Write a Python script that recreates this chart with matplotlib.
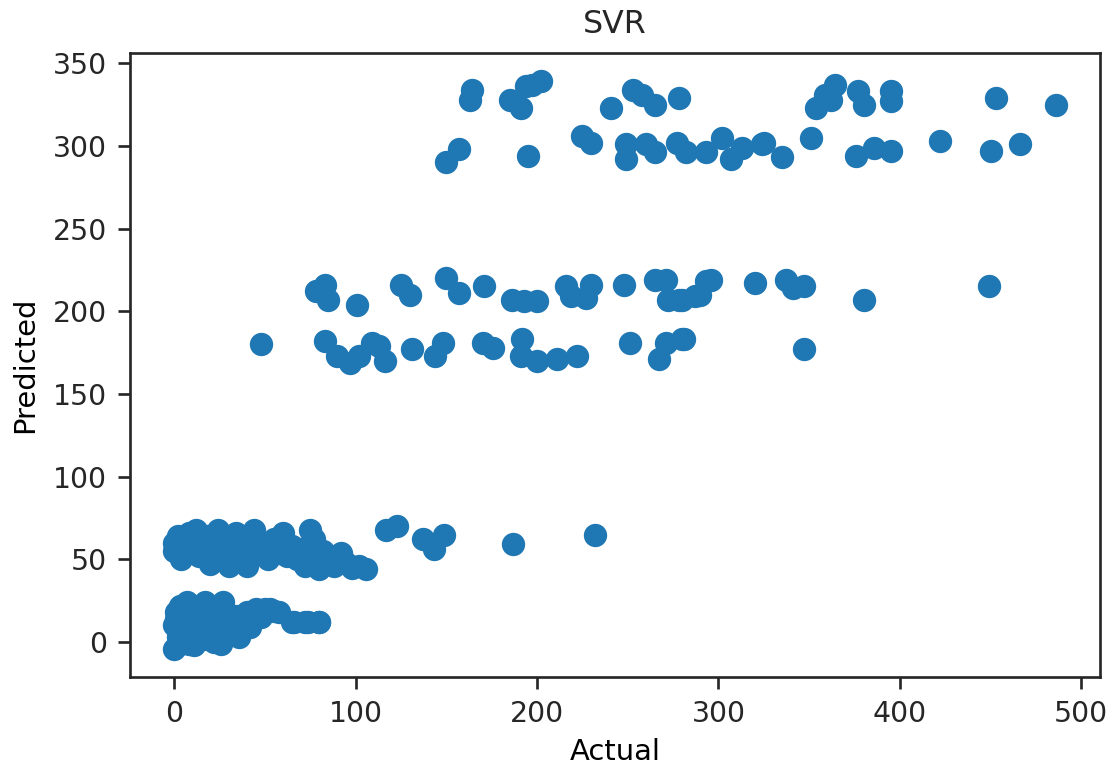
import matplotlib
matplotlib.use("Agg")
import matplotlib.pyplot as plt

# actual vs predicted values
low_actual = [0, 2, 0, 1, 3, 5, 6, 8, 10, 12, 14, 15, 17, 18, 20, 22, 24, 25, 27, 28,
              30, 32, 34, 36, 38, 40, 42, 45, 48, 50, 55, 58, 65, 72, 80, 4, 9, 16, 21, 26,
              11, 7, 53, 66, 74, 80, 2, 5, 12, 18, 24, 10, 28, 1, 14]
low_pred = [-4, 3, 10, 18, 22, 15, 5, -1, 8, 20, 12, 2, 24, 16, 6, 0, 10, 18, 24, 4,
            12, 7, 16, 3, 12, 18, 9, 20, 15, 20, 19, 18, 12, 12, 12, 0, 13, 9, 21, -1,
            -2, 24, 20, 12, 12, 12, -2, 8, 6, 2, 4, 16, 18, 14, 19]

mid_actual = [0, 0, 2, 4, 6, 8, 10, 12, 14, 16, 18, 20, 22, 24, 26, 28, 30, 32, 34, 36,
              38, 40, 42, 44, 46, 48, 50, 52, 55, 58, 60, 62, 65, 68, 70, 72, 75, 77, 78, 80,
              82, 84, 86, 88, 90, 92, 95, 98, 102, 106,
              117, 123, 137, 149, 143, 187, 232]
mid_pred = [60, 55, 64, 50, 58, 66, 62, 68, 52, 58, 64, 47, 56, 68, 62, 52, 46, 58, 66, 55,
            62, 46, 52, 68, 58, 60, 55, 50, 62, 54, 66, 52, 58, 50, 56, 46, 68, 62, 52, 44,
            55, 48, 52, 46, 50, 54, 48, 45, 46, 44,
            68, 70, 62, 65, 56, 59, 65]

band180_actual = [48, 83, 90, 97, 102, 109, 113, 116, 131, 144, 148, 170, 176, 192, 191,
                  200, 211, 222, 251, 267, 271, 280, 281, 347]
band180_pred = [180, 182, 173, 169, 173, 181, 179, 170, 177, 173, 181, 181, 178, 183, 173,
                170, 171, 173, 181, 171, 181, 183, 183, 177]

band210_actual = [83, 78, 85, 101, 125, 130, 150, 157, 171, 186, 193, 200, 216, 219, 227,
                  230, 248, 265, 271, 272, 278, 287, 280, 290, 293, 296, 320, 337, 341, 347,
                  380, 449]
band210_pred = [216, 212, 207, 204, 216, 210, 220, 211, 215, 207, 206, 206, 215, 209, 208,
                216, 216, 219, 219, 207, 207, 209, 207, 210, 218, 219, 217, 219, 214, 215,
                207, 215]

band300_actual = [150, 157, 195, 225, 230, 249, 249, 260, 265, 277, 282, 293, 302, 307, 313,
                  324, 325, 335, 351, 376, 386, 395, 422, 450, 466]
band300_pred = [290, 298, 294, 306, 302, 301, 292, 301, 296, 302, 296, 296, 305, 292, 299,
                301, 302, 293, 305, 294, 299, 297, 303, 297, 301]

band330_actual = [164, 163, 185, 191, 194, 202, 197, 241, 253, 258, 265, 278, 354, 359, 364,
                  362, 377, 380, 395, 395, 453, 486]
band330_pred = [334, 328, 328, 323, 336, 339, 337, 323, 334, 331, 325, 329, 323, 331, 337,
                328, 333, 325, 333, 327, 329, 325]

actual = low_actual + mid_actual + band180_actual + band210_actual + band300_actual + band330_actual
predicted = low_pred + mid_pred + band180_pred + band210_pred + band300_pred + band330_pred

plt.rcParams['font.size'] = 8.5
plt.rcParams['axes.titlesize'] = 9.5
plt.rcParams['axes.labelsize'] = 8.7
plt.rcParams['text.color'] = '#262626'
plt.rcParams['axes.edgecolor'] = '#262626'
plt.rcParams['xtick.color'] = '#262626'
plt.rcParams['ytick.color'] = '#262626'

fig = plt.figure(figsize=(1113 / 240, 767 / 240), dpi=240)
ax = fig.add_axes([130 / 1113, 90 / 767, 970 / 1113, 624 / 767])

ax.scatter(actual, predicted)
ax.set_title("SVR", pad=6)
ax.set_xlabel("Actual", labelpad=3)
ax.set_ylabel("Predicted", labelpad=4)

plt.savefig("out.png", dpi=240)
